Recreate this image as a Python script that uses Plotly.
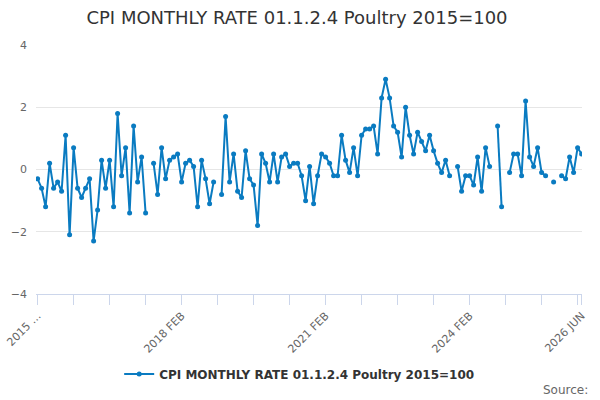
import pandas as pd
import plotly.graph_objects as go

# --- Data ---
months = pd.date_range("2015-02-01", "2026-06-01", freq="MS")
categories = [d.strftime("%Y %b").upper() for d in months]

rate = [
    -0.3, -0.6, -1.2, 0.2, -0.6, -0.4, -0.7, 1.1, -2.1, 0.7,
    -0.6, -0.9, -0.6, -0.3, -2.3, -1.3, 0.3, -0.6, 0.3, -1.2,
    1.8, -0.2, 0.7, -1.4, 1.4, -0.4, 0.4, -1.4, None, 0.2,
    -0.8, 0.7, -0.3, 0.3, 0.4, 0.5, -0.4, 0.2, 0.3, 0.1,
    -1.2, 0.3, -0.3, -1.1, -0.4, None, -0.8, 1.7, -0.4, 0.5,
    -0.7, -0.9, 0.6, -0.3, -0.5, -1.8, 0.5, 0.2, -0.4, 0.5,
    -0.4, 0.4, 0.5, 0.1, 0.2, 0.2, -0.2, -1.0, 0.1, -1.1,
    -0.2, 0.5, 0.4, 0.2, -0.2, -0.2, 1.1, 0.3, -0.1, 0.7,
    -0.2, 1.1, 1.3, 1.3, 1.4, 0.5, 2.3, 2.9, 2.3, 1.4,
    1.2, 0.4, 2.0, 1.1, 0.5, 1.2, 0.9, 0.6, 1.1, 0.6,
    0.2, -0.1, 0.3, -0.2, None, 0.1, -0.7, -0.2, -0.2, -0.5,
    0.4, -0.7, 0.7, 0.1, None, 1.4, -1.2, None, -0.1, 0.5,
    0.5, -0.2, 2.2, 0.4, 0.1, 0.7, -0.1, -0.2, None, -0.4,
    None, -0.2, -0.3, 0.4, -0.1, 0.7, 0.5,
]

label_idx = [0, 36, 72, 108, 136]
tick_idx = list(range(0, 136, 9)) + [136]
tick_text = []
for i in tick_idx:
    if i == 0:
        tick_text.append("2015 …")
    elif i in label_idx:
        tick_text.append(categories[i])
    else:
        tick_text.append("")

series_name = "CPI MONTHLY RATE 01.1.2.4 Poultry 2015=100"

# --- Figure ---
fig = go.Figure()
fig.add_trace(go.Scatter(
    x=categories,
    y=rate,
    name=series_name,
    mode="lines+markers",
    line=dict(color="#0a7bc1", width=2),
    marker=dict(color="#0a7bc1", size=5),
    connectgaps=False,
))

fig.update_layout(
    width=600,
    height=400,
    paper_bgcolor="white",
    plot_bgcolor="white",
    font=dict(family="DejaVu Sans", color="#666666"),
    title=dict(
        text=series_name,
        x=0.495, xanchor="center",
        y=0.955, yanchor="middle",
        font=dict(size=18, color="#333333"),
    ),
    margin=dict(l=36, r=18, t=45, b=106),
    showlegend=True,
    legend=dict(
        orientation="h",
        x=0.482, xanchor="center",
        y=-0.321, yanchor="middle",
        itemwidth=30,
        font=dict(size=12, color="#333333", weight="bold"),
    ),
    annotations=[dict(
        text="Source:",
        xref="paper", yref="paper",
        x=1.015, y=-0.386,
        xanchor="right", yanchor="middle",
        showarrow=False,
        font=dict(size=12, color="#666666"),
    )],
)

fig.update_xaxes(
    type="category",
    range=[-0.4, 136.1],
    tickmode="array",
    tickvals=[categories[i] for i in tick_idx],
    ticktext=tick_text,
    tickangle=-45,
    ticks="outside",
    ticklen=10,
    tickcolor="#ccd6eb",
    showline=True,
    linecolor="#ccd6eb",
    showgrid=False,
    automargin=False,
    tickfont=dict(size=11, color="#666666"),
)

fig.update_yaxes(
    range=[-4, 4],
    tickvals=[-4, -2, 0, 2, 4],
    showgrid=True,
    gridcolor="#e6e6e6",
    zeroline=False,
    showline=False,
    automargin=False,
    tickfont=dict(size=11, color="#666666"),
    ticklabelstandoff=8,
)

# page body has a default 8px margin, drop it so the chart sits at 0,0
fig.write_html(
    "out.html",
    config={"displayModeBar": False},
    post_script="document.body.style.margin='0';",
)
